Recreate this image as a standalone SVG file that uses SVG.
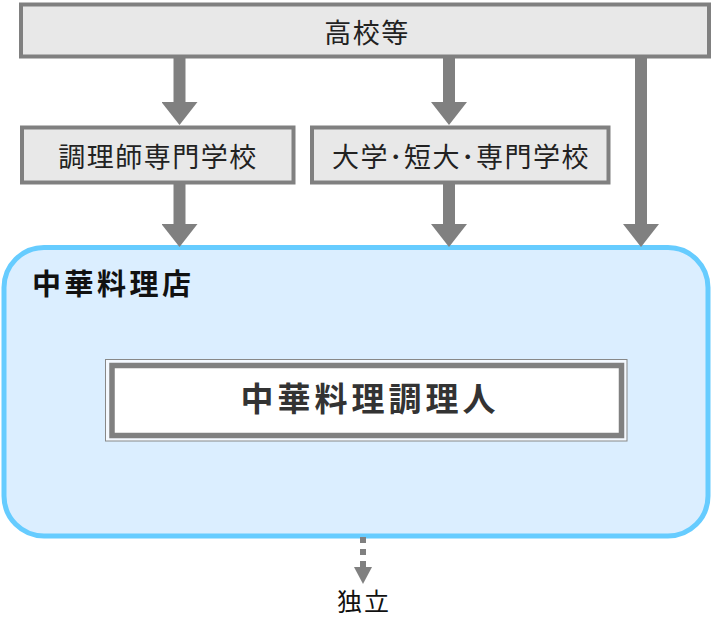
<svg xmlns="http://www.w3.org/2000/svg" width="712" height="631" viewBox="0 0 712 631">
<style>
text{font-family:"Noto Sans CJK JP","Noto Sans",sans-serif;fill:#222;}
.box{fill:#e8e8e8;stroke:#808080;stroke-width:4;}
.lbl{font-size:27px;text-anchor:middle;dominant-baseline:central;}
.arr{stroke:#808080;stroke-width:12;fill:none;}
</style>
<defs>
<marker id="head" markerUnits="userSpaceOnUse" viewBox="0 0 23 36" refX="0" refY="18" markerWidth="23" markerHeight="36" orient="auto">
<path d="M0,0 L23,18 L0,36 Z" fill="#808080"/>
</marker>
<marker id="head2" markerUnits="userSpaceOnUse" viewBox="0 0 17 18" refX="0" refY="9" markerWidth="17" markerHeight="18" orient="auto">
<path d="M0,0 L17,9 L0,18 Z" fill="#808080"/>
</marker>
</defs>
<g id="shop">
<rect x="4" y="247.5" width="704" height="288.5" rx="40" fill="#dbeeff" stroke="#66ccff" stroke-width="5"/>
<text x="32" y="282" style="font-size:29px;font-weight:bold;letter-spacing:3.5px;dominant-baseline:central;fill:#111">中華料理店</text>
</g>
<g id="cook">
<rect x="105.5" y="359.5" width="521.5" height="81.5" fill="#f4f9ff" stroke="#888" stroke-width="1"/>
<rect x="112" y="365.5" width="509.5" height="70" fill="#fff" stroke="#808080" stroke-width="5.5"/>
<text x="370" y="397" class="lbl" style="font-size:33px;font-weight:bold;letter-spacing:4px;fill:#333">中華料理調理人</text>
</g>
<g id="highschool">
<rect class="box" x="21" y="4.5" width="688" height="52"/>
<text x="367" y="31" class="lbl" style="letter-spacing:1.5px">高校等</text>
</g>
<g id="cookschool">
<rect class="box" x="22" y="127.5" width="271.5" height="55"/>
<text x="158" y="155" class="lbl" style="letter-spacing:1.5px">調理師専門学校</text>
</g>
<g id="univ">
<rect class="box" x="312" y="127.5" width="296.5" height="55"/>
<text x="461" y="155" class="lbl" style="letter-spacing:1.5px">大学･短大･専門学校</text>
</g>
<g id="independent">
<text x="364" y="600" class="lbl" style="font-size:25px;letter-spacing:2px;fill:#111">独立</text>
</g>
<g id="connectors">
<line class="arr" x1="179.5" y1="57" x2="179.5" y2="102" marker-end="url(#head)"/>
<line class="arr" x1="449" y1="57" x2="449" y2="102" marker-end="url(#head)"/>
<line class="arr" x1="179.5" y1="184" x2="179.5" y2="224" marker-end="url(#head)"/>
<line class="arr" x1="449" y1="184" x2="449" y2="224" marker-end="url(#head)"/>
<line class="arr" x1="641" y1="57" x2="641" y2="224" marker-end="url(#head)"/>
<line x1="363" y1="537" x2="363" y2="567" stroke="#808080" stroke-width="6" stroke-dasharray="6 6" marker-end="url(#head2)"/>
</g>
</svg>
